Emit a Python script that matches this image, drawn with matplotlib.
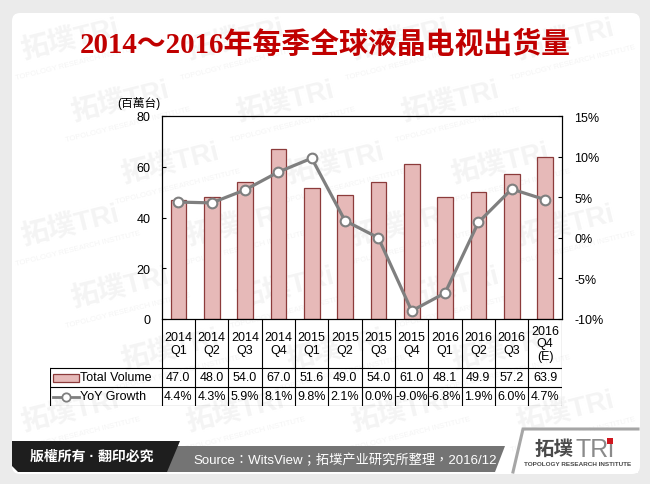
import numpy as np
import matplotlib
matplotlib.use("Agg")
import matplotlib.pyplot as plt
from matplotlib.patches import FancyBboxPatch, Polygon, Rectangle
from matplotlib.lines import Line2D

# data
quarters = ["2014\nQ1", "2014\nQ2", "2014\nQ3", "2014\nQ4",
            "2015\nQ1", "2015\nQ2", "2015\nQ3", "2015\nQ4",
            "2016\nQ1", "2016\nQ2", "2016\nQ3", "2016\nQ4\n(E)"]
volume = [47.0, 48.0, 54.0, 67.0, 51.6, 49.0, 54.0, 61.0, 48.1, 49.9, 57.2, 63.9]
yoy = [4.4, 4.3, 5.9, 8.1, 9.8, 2.1, 0.0, -9.0, -6.8, 1.9, 6.0, 4.7]

TITLE = "2014～2016年每季全球液晶电视出货量"
UNIT = "(百萬台)"
SOURCE = "Source：WitsView；拓墣产业研究所整理，2016/12"
COPYRIGHT = "版權所有 · 翻印必究"

BAR_FILL = "#E6B9B8"
BAR_EDGE = "#8C3B3B"
LINE_COL = "#7F7F7F"

SANS = ["Liberation Sans", "Noto Sans CJK TC", "DejaVu Sans"]
W, H = 650, 485


def fx(px):
    return px / W


def fy(py):
    return 1 - py / H


fig = plt.figure(figsize=(6.5, 4.85), dpi=100)
fig.patch.set_facecolor("#EBEBEB")

# background layer in pixel coordinates
bg = fig.add_axes([0, 0, 1, 1], zorder=0)
bg.set_xlim(0, W)
bg.set_ylim(H, 0)
bg.axis("off")

card = FancyBboxPatch((12, 14), 628, 461,
                      boxstyle="round,pad=0,rounding_size=8",
                      fc="white", ec="none", zorder=0)
bg.add_patch(card)

# faint watermark, kept inside the card
for row, yy in enumerate(range(40, 420, 62)):
    off = (row % 3) * 50
    for xx in range(70 + off, 600, 165):
        bg.text(xx, yy, "拓墣TRi", fontsize=20, fontweight="bold",
                color="#F4F4F4", rotation=14, family=SANS,
                ha="center", va="center", zorder=0.5)
        bg.text(xx + 8, yy + 23, "TOPOLOGY RESEARCH INSTITUTE",
                fontsize=5.5, color="#F4F4F4", rotation=14,
                family=SANS, ha="center", va="center", zorder=0.5)

# title
bg.text(325, 45, TITLE, fontsize=20.8, fontweight="bold", color="#C00000",
        family=["Liberation Serif", "Noto Sans CJK SC"],
        ha="center", va="center", zorder=5)

# footer
bg.add_patch(Polygon([(160, 447), (505, 447), (495, 473), (160, 473)],
                     closed=True, fc="#747474", ec="none", zorder=4))
bg.add_patch(Polygon([(12, 442), (180, 442), (167, 473), (18, 473), (12, 467)],
                     closed=True, fc="#1E1E1E", ec="none", zorder=4))
bg.text(92, 457, COPYRIGHT, fontsize=10, fontweight="bold", color="white",
        family=SANS, ha="center", va="center", zorder=5)
bg.text(193, 461, SOURCE, fontsize=9.5, color="white", family=SANS,
        ha="left", va="center", zorder=5)
bg.plot([513, 523, 638], [473, 430, 430], color="#A6A6A6", lw=2.2,
        solid_joinstyle="miter", zorder=4)
bg.add_patch(Rectangle((516, 432), 122, 42, fc="white", ec="none", zorder=3.5))
bg.text(535, 449, "拓墣", fontsize=14, fontweight="bold", color="#4A4A4A",
        family=["Noto Sans CJK TC"], ha="left", va="center", zorder=5)
tri = bg.text(576, 450, "TRi", fontsize=18, color="#8A8A8A", family=SANS,
              ha="left", va="center", zorder=5)
bg.text(578, 465, "TOPOLOGY RESEARCH INSTITUTE", fontsize=4.6,
        fontweight="bold", color="#4A4A4A", family=SANS,
        ha="center", va="center", zorder=5)

# red dot of the logo "i", placed from the rendered text box
fig.canvas.draw()
bb = tri.get_window_extent()
dot_x = bb.x1 - 4.5
dot_y = H - bb.y1 + 4
bg.add_patch(Rectangle((dot_x - 2.8, dot_y - 2.8), 5.6, 5.6, fc="#D0161E",
                       ec="none", zorder=6))

# chart
left, right, top, bottom = 161.7, 561.7, 117, 320
ax = fig.add_axes([fx(left), fy(bottom), fx(right - left), (bottom - top) / H],
                  zorder=2)
ax.patch.set_alpha(0)
x = np.arange(len(volume))
ax.bar(x, volume, width=0.47, color=BAR_FILL, edgecolor=BAR_EDGE,
       linewidth=0.9, zorder=2)
ax.set_xlim(-0.5, len(volume) - 0.5)
ax.set_ylim(0, 80)
ax.set_yticks(range(0, 81, 20))
ax.set_xticks([])
ax.tick_params(axis="y", direction="in", length=3, pad=8, labelsize=9)
for s in ax.spines.values():
    s.set_linewidth(0.8)
    s.set_color("black")
for lab in ax.get_yticklabels():
    lab.set_family(SANS)

ax2 = ax.twinx()
ax2.patch.set_alpha(0)
ax2.plot(x, yoy, color=LINE_COL, lw=2.3, marker="o", ms=7,
         mfc="white", mec=LINE_COL, mew=1.5, zorder=3)
ax2.set_ylim(-10, 15)
ax2.set_yticks(range(-10, 16, 5))
ax2.set_yticklabels([f"{v}%" for v in range(-10, 16, 5)])
ax2.tick_params(axis="y", direction="in", length=3, pad=9, labelsize=9)
for lab in ax2.get_yticklabels():
    lab.set_family(SANS)
for s in ax2.spines.values():
    s.set_linewidth(0.8)

bg.text(117, 103, UNIT, fontsize=8.5, family=SANS, ha="left", va="center",
        zorder=5)

# data table under the chart
col_w = (right - left) / len(volume)
tab_left = 49.5
xl = -0.5 - (left - tab_left) / col_w
tab = fig.add_axes([fx(tab_left), fy(407), fx(right - tab_left), (407 - 320) / H],
                   zorder=2)
tab.set_xlim(xl, len(volume) - 0.5)
tab.set_ylim(407, 320)
tab.axis("off")
lk = dict(color="black", lw=0.8)
for i in range(len(volume) + 1):
    tab.plot([i - 0.5, i - 0.5], [320, 407], **lk)
tab.plot([xl, xl], [369, 407], **lk)
for yy in (369, 388, 407):
    tab.plot([xl, len(volume) - 0.5], [yy, yy], **lk)

for i, q in enumerate(quarters):
    tab.text(i, 344.5, q, fontsize=9, family=SANS, ha="center", va="center",
             linespacing=1.05)
    tab.text(i, 378.5, f"{volume[i]:.1f}", fontsize=9, family=SANS,
             ha="center", va="center")
    tab.text(i, 397.5, f"{yoy[i]:.1f}%", fontsize=9, family=SANS,
             ha="center", va="center")


def tx(pxx):
    return xl + (pxx - tab_left) / col_w


# legend keys in the first column
tab.add_patch(Rectangle((tx(53), 375), tx(79) - tx(53), 7.5,
                        fc=BAR_FILL, ec=BAR_EDGE, lw=0.9))
tab.add_line(Line2D([tx(53), tx(79)], [397.5, 397.5], color=LINE_COL, lw=2))
tab.plot([tx(66)], [397.5], marker="o", ms=6, mfc="white", mec=LINE_COL, mew=1.3)
tab.text(tx(80), 378.5, "Total Volume", fontsize=9, family=SANS,
         ha="left", va="center")
tab.text(tx(80), 397.5, "YoY Growth", fontsize=9, family=SANS,
         ha="left", va="center")

fig.savefig("out.png", dpi=100, facecolor=fig.get_facecolor())
